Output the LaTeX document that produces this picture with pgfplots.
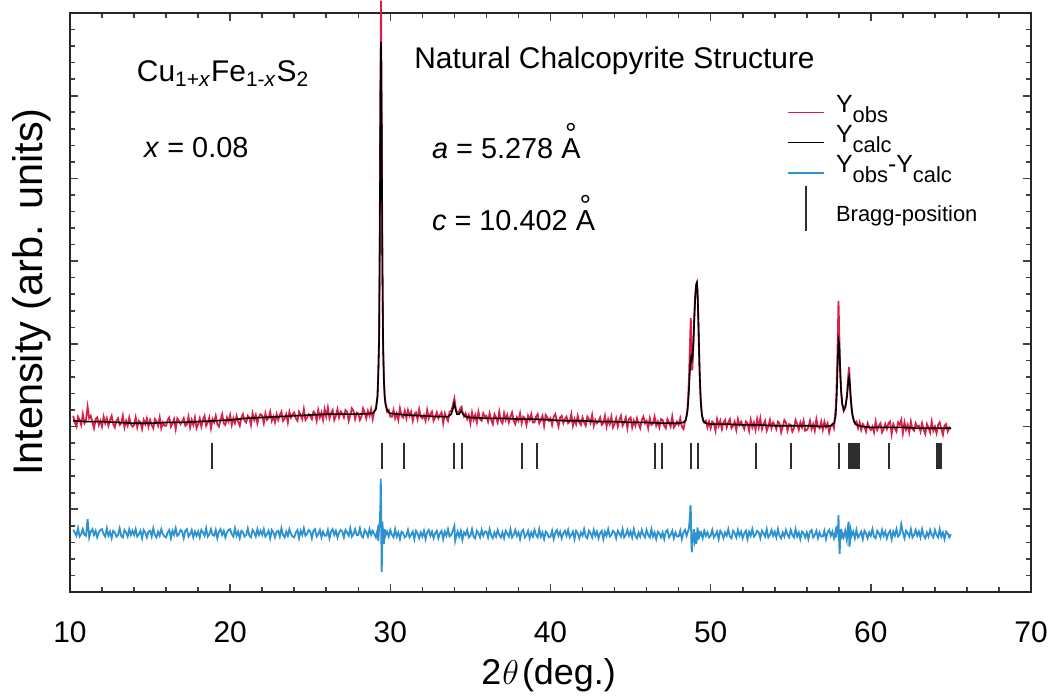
\documentclass[border=0pt]{standalone}
\usepackage{pgfplots}
\pgfplotsset{compat=1.18}
\usepackage{fontspec}
\setmainfont{Liberation Sans}

\definecolor{obsred}{RGB}{218,32,74}
\definecolor{diffblue}{RGB}{44,146,208}
\definecolor{braggk}{RGB}{45,45,45}

% angstrom sign with a detached ring
\newcommand{\ang}{\leavevmode\hbox{\setbox0\hbox{A}\rlap{\hbox to\wd0{\hss\raisebox{0.52em}{°}\hss}}\box0}}
% lowered, nearly full-size subscript used in the legend
\newcommand{\lsub}[1]{\raisebox{-0.40em}{\fontsize{11}{11}\selectfont #1}}

\pgfplotsset{
  legline/.style={legend image code/.code={\draw[##1] (0bp,-3.5bp) -- (18bp,-3.5bp);}},
  legbar/.style={legend image code/.code={\draw[braggk, line width=0.9bp] (9bp,-7.75bp) -- (9bp,14.75bp);}},
}

\begin{document}
\begin{tikzpicture}
\begin{axis}[
  scale only axis, width=480.5bp, height=289.5bp,
  xmin=10, xmax=70, ymin=0, ymax=7,
  xtick={10,20,...,70}, minor x tick num=4,
  ytick={0,1,...,7}, minor y tick num=4, yticklabels={},
  tick align=inside, major tick length=4bp, minor tick length=2.5bp,
  axis line style={line width=1bp, black!85},
  tick style={line width=0.8bp, black!75},
  clip=false,
  /pgf/number format/assume math mode=true,
  xticklabel style={font=\fontsize{15}{15}\selectfont, anchor=base, yshift=-25bp},
  xlabel={2\kern0.5bp$\theta$\kern1.5bp(deg.)},
  xlabel style={at={(axis description cs:0.498,-0.1606)}, anchor=base, font=\fontsize{18}{18}\selectfont},
  ylabel={Intensity (arb. units)},
  ylabel style={at={(axis description cs:-0.0281,0.518)}, anchor=base, font=\fontsize{20.8}{20.8}\selectfont},
  legend cell align=left,
  legend style={at={(rel axis cs:0.746,0.86)}, anchor=north west, draw=none, fill=none,
    inner sep=0pt, row sep=4bp, column sep=5bp, nodes={inner sep=0.5bp},
    font=\fontsize{12.5}{14}\selectfont},
]

% observed pattern
\addplot[obsred, line width=0.9bp, legline] coordinates {
(10.2,2.13)(10.3,2.05)(10.4,2.00)(10.5,2.12)(10.6,2.08)(10.7,2.02)(10.8,2.15)(10.9,2.04)
(11.0,2.08)(11.1,2.24)(11.2,2.10)(11.3,2.13)(11.4,2.05)(11.5,1.98)(11.6,2.09)(11.7,2.11)(11.8,2.02)(11.9,2.07)
(12.0,2.00)(12.1,2.12)(12.2,2.04)(12.3,2.10)(12.4,2.01)(12.5,2.08)(12.6,2.13)(12.7,2.03)(12.8,1.99)(12.9,2.07)
(13.0,2.10)(13.1,2.02)(13.2,2.04)(13.3,2.13)(13.4,1.99)(13.5,2.07)(13.6,2.01)(13.7,2.11)(13.8,2.03)(13.9,2.00)
(14.0,2.02)(14.1,2.11)(14.2,1.99)(14.3,2.07)(14.4,2.05)(14.5,1.97)(14.6,2.08)(14.7,2.03)(14.8,2.10)(14.9,2.00)
(15.0,2.08)(15.1,2.02)(15.2,1.98)(15.3,2.09)(15.4,2.06)(15.5,2.01)(15.6,2.11)(15.7,1.98)(15.8,2.05)(15.9,2.01)
(16.0,2.01)(16.1,2.08)(16.2,2.11)(16.3,2.00)(16.4,2.04)(16.5,2.09)(16.6,1.97)(16.7,2.10)(16.8,2.07)(16.9,2.03)
(17.0,2.06)(17.1,2.10)(17.2,2.01)(17.3,2.03)(17.4,2.12)(17.5,1.99)(17.6,2.08)(17.7,2.02)(17.8,2.11)(17.9,1.98)
(18.0,2.03)(18.1,2.10)(18.2,2.00)(18.3,2.08)(18.4,2.13)(18.5,2.01)(18.6,2.05)(18.7,2.11)(18.8,1.98)(18.9,2.09)
(19.0,2.05)(19.1,2.13)(19.2,2.03)(19.3,2.00)(19.4,2.08)(19.5,2.15)(19.6,2.04)(19.7,2.02)(19.8,2.11)(19.9,2.06)
(20.0,2.14)(20.1,2.02)(20.2,2.10)(20.3,2.04)(20.4,2.13)(20.5,2.06)(20.6,2.01)(20.7,2.11)(20.8,2.15)(20.9,2.07)
(21.0,2.05)(21.1,2.13)(21.2,2.11)(21.3,2.02)(21.4,2.16)(21.5,2.08)(21.6,2.14)(21.7,2.04)(21.8,2.12)(21.9,2.15)
(22.0,2.13)(22.1,2.04)(22.2,2.16)(22.3,2.08)(22.4,2.10)(22.5,2.18)(22.6,2.07)(22.7,2.12)(22.8,2.05)(22.9,2.15)
(23.0,2.08)(23.1,2.14)(23.2,2.18)(23.3,2.07)(23.4,2.10)(23.5,2.15)(23.6,2.05)(23.7,2.18)(23.8,2.11)(23.9,2.15)
(24.0,2.17)(24.1,2.10)(24.2,2.07)(24.3,2.18)(24.4,2.14)(24.5,2.09)(24.6,2.21)(24.7,2.08)(24.8,2.11)(24.9,2.15)
(25.0,2.13)(25.1,2.09)(25.2,2.18)(25.3,2.16)(25.4,2.07)(25.5,2.20)(25.6,2.11)(25.7,2.17)(25.8,2.08)(25.9,2.21)
(26.0,2.12)(26.1,2.23)(26.2,2.10)(26.3,2.16)(26.4,2.20)(26.5,2.08)(26.6,2.13)(26.7,2.21)(26.8,2.11)(26.9,2.18)
(27.0,2.16)(27.1,2.11)(27.2,2.20)(27.3,2.18)(27.4,2.07)(27.5,2.14)(27.6,2.22)(27.7,2.19)(27.8,2.09)(27.9,2.17)
(28.0,2.16)(28.1,2.08)(28.2,2.12)(28.3,2.22)(28.4,2.17)(28.5,2.10)(28.6,2.19)(28.7,2.13)(28.8,2.21)(28.9,2.09)
(29.0,2.19)(29.1,2.22)(29.2,2.38)(29.25,2.70)(29.3,3.10)(29.34,4.30)(29.38,6.20)(29.42,7.15)(29.46,5.60)(29.5,4.20)
(29.55,3.00)(29.6,2.55)(29.65,2.35)(29.7,2.28)(29.8,2.18)(29.9,2.20)
(30.0,2.12)(30.1,2.12)(30.2,2.20)(30.3,2.10)(30.4,2.16)(30.5,2.08)(30.6,2.22)(30.7,2.13)(30.8,2.11)(30.9,2.19)
(31.0,2.10)(31.1,2.20)(31.2,2.13)(31.3,2.18)(31.4,2.07)(31.5,2.15)(31.6,2.17)(31.7,2.09)(31.8,2.21)(31.9,2.12)
(32.0,2.10)(32.1,2.14)(32.2,2.07)(32.3,2.20)(32.4,2.10)(32.5,2.15)(32.6,2.18)(32.7,2.07)(32.8,2.11)(32.9,2.17)
(33.0,2.10)(33.1,2.14)(33.2,2.17)(33.3,2.04)(33.4,2.16)(33.5,2.11)(33.6,2.07)(33.7,2.18)(33.8,2.19)(33.9,2.25)
(33.95,2.30)(34.0,2.34)(34.05,2.27)(34.1,2.20)(34.2,2.16)(34.3,2.19)(34.4,2.23)(34.45,2.24)(34.5,2.18)(34.6,2.12)
(34.7,2.16)(34.8,2.09)(34.9,2.14)
(35.0,2.04)(35.1,2.17)(35.2,2.08)(35.3,2.14)(35.4,2.05)(35.5,2.18)(35.6,2.09)(35.7,2.07)(35.8,2.16)(35.9,2.12)
(36.0,2.13)(36.1,2.06)(36.2,2.16)(36.3,2.08)(36.4,2.03)(36.5,2.15)(36.6,2.11)(36.7,2.05)(36.8,2.18)(36.9,2.07)
(37.0,2.04)(37.1,2.16)(37.2,2.08)(37.3,2.14)(37.4,2.05)(37.5,2.12)(37.6,2.17)(37.7,2.07)(37.8,2.03)(37.9,2.11)
(38.0,2.07)(38.1,2.16)(38.2,2.04)(38.3,2.12)(38.4,2.10)(38.5,2.02)(38.6,2.13)(38.7,2.08)(38.8,2.15)(38.9,2.05)
(39.0,2.05)(39.1,2.12)(39.2,2.15)(39.3,2.04)(39.4,2.08)(39.5,2.13)(39.6,2.01)(39.7,2.14)(39.8,2.11)(39.9,2.07)
(40.0,2.10)(40.1,2.02)(40.2,2.12)(40.3,2.15)(40.4,2.07)(40.5,2.00)(40.6,2.11)(40.7,2.13)(40.8,2.04)(40.9,2.09)
(41.0,2.12)(41.1,2.04)(41.2,2.06)(41.3,2.15)(41.4,2.01)(41.5,2.09)(41.6,2.03)(41.7,2.13)(41.8,2.05)(41.9,2.02)
(42.0,2.11)(42.1,2.05)(42.2,2.01)(42.3,2.12)(42.4,2.09)(42.5,2.04)(42.6,2.14)(42.7,2.01)(42.8,2.08)(42.9,2.04)
(43.0,2.07)(43.1,2.11)(43.2,2.02)(43.3,2.04)(43.4,2.13)(43.5,2.00)(43.6,2.09)(43.7,2.03)(43.8,2.12)(43.9,1.99)
(44.0,2.03)(44.1,2.10)(44.2,2.00)(44.3,2.08)(44.4,2.13)(44.5,2.01)(44.6,2.05)(44.7,2.11)(44.8,1.98)(44.9,2.09)
(45.0,2.11)(45.1,1.99)(45.2,2.07)(45.3,2.01)(45.4,2.10)(45.5,2.03)(45.6,1.98)(45.7,2.08)(45.8,2.12)(45.9,2.04)
(46.0,2.07)(46.1,1.98)(46.2,2.10)(46.3,2.02)(46.4,2.04)(46.5,2.12)(46.6,2.01)(46.7,2.06)(46.8,1.99)(46.9,2.09)
(47.0,2.08)(47.1,2.01)(47.2,1.98)(47.3,2.09)(47.4,2.05)(47.5,2.00)(47.6,2.12)(47.7,1.99)(47.8,2.02)(47.9,2.06)
(48.0,2.02)(48.1,2.10)(48.2,2.00)(48.3,1.97)(48.4,2.06)(48.45,2.08)(48.5,2.14)(48.55,2.22)(48.6,2.38)(48.65,2.60)
(48.7,2.95)(48.74,3.20)(48.76,3.31)(48.79,2.95)(48.82,2.72)(48.85,2.68)(48.88,2.80)(48.92,3.00)(48.96,3.25)(49.0,3.45)
(49.05,3.62)(49.1,3.72)(49.14,3.74)(49.18,3.62)(49.22,3.35)(49.26,3.00)(49.3,2.70)(49.35,2.42)(49.4,2.25)(49.45,2.15)
(49.5,2.10)(49.6,2.05)(49.7,2.07)(49.8,1.99)(49.9,2.06)
(50.0,1.98)(50.1,2.06)(50.2,2.04)(50.3,1.95)(50.4,2.09)(50.5,2.01)(50.6,2.07)(50.7,1.97)(50.8,2.05)(50.9,2.08)
(51.0,1.99)(51.1,2.05)(51.2,2.09)(51.3,1.98)(51.4,2.01)(51.5,2.06)(51.6,1.96)(51.7,2.09)(51.8,2.02)(51.9,2.06)
(52.0,2.01)(52.1,1.97)(52.2,2.06)(52.3,2.04)(52.4,1.95)(52.5,2.08)(52.6,1.99)(52.7,2.05)(52.8,1.96)(52.9,2.09)
(53.0,1.99)(53.1,2.10)(53.2,1.97)(53.3,2.03)(53.4,2.07)(53.5,1.95)(53.6,2.00)(53.7,2.08)(53.8,1.98)(53.9,2.05)
(54.0,2.02)(54.1,1.97)(54.2,2.06)(54.3,2.04)(54.4,1.93)(54.5,2.00)(54.6,2.08)(54.7,2.05)(54.8,1.95)(54.9,2.03)
(55.0,2.02)(55.1,1.94)(55.2,1.98)(55.3,2.08)(55.4,2.03)(55.5,1.96)(55.6,2.05)(55.7,1.99)(55.8,2.07)(55.9,1.95)
(56.0,1.96)(56.1,1.99)(56.2,2.07)(56.3,1.97)(56.4,2.03)(56.5,1.95)(56.6,2.09)(56.7,2.00)(56.8,1.98)(56.9,2.06)
(57.0,1.96)(57.1,2.06)(57.2,1.99)(57.3,2.04)(57.4,1.93)(57.5,2.01)(57.6,2.03)(57.7,1.98)(57.75,2.10)(57.8,2.20)
(57.85,2.40)(57.9,2.75)(57.94,3.10)(57.98,3.52)(58.02,3.20)(58.06,2.85)(58.1,2.58)(58.15,2.40)(58.2,2.28)(58.3,2.19)
(58.4,2.24)(58.5,2.36)(58.55,2.50)(58.6,2.63)(58.64,2.72)(58.68,2.55)(58.72,2.38)(58.8,2.20)(58.9,2.10)(59.0,2.04)
(59.1,2.06)(59.2,1.98)(59.3,2.05)(59.4,1.96)(59.5,2.03)(59.6,2.00)(59.7,1.94)(59.8,2.04)(59.9,1.99)
(60.0,1.96)(60.1,2.00)(60.2,1.93)(60.3,2.06)(60.4,1.96)(60.5,2.01)(60.6,2.04)(60.7,1.93)(60.8,1.97)(60.9,2.03)
(61.0,1.97)(61.1,2.04)(61.2,2.06)(61.3,1.91)(61.4,2.03)(61.5,1.98)(61.6,1.94)(61.7,2.05)(61.8,2.02)(61.9,2.08)
(62.0,1.92)(62.1,2.05)(62.2,1.96)(62.3,2.02)(62.4,1.93)(62.5,2.06)(62.6,1.97)(62.7,1.95)(62.8,2.04)(62.9,2.00)
(63.0,2.01)(63.1,1.94)(63.2,2.04)(63.3,1.96)(63.4,1.91)(63.5,2.03)(63.6,1.99)(63.7,1.93)(63.8,2.06)(63.9,1.95)
(64.0,2.00)(64.1,1.92)(64.2,2.02)(64.3,2.05)(64.4,1.97)(64.5,1.90)(64.6,2.01)(64.7,2.03)(64.8,1.94)(64.9,1.99)
(65.0,1.97)
};
\addlegendentry{Y\lsub{obs}}

% calculated pattern
\addplot[black, line width=0.8bp, legline] coordinates {
(10.2,2.07)(11,2.06)(12,2.06)(13,2.05)(14,2.04)(15,2.04)(16,2.05)(17,2.05)(18,2.06)(19,2.07)
(20,2.08)(21,2.10)(22,2.11)(23,2.12)(24,2.13)(25,2.14)(26,2.15)(27,2.15)(28,2.15)(28.9,2.16)
(29.0,2.18)(29.1,2.21)(29.2,2.36)(29.25,2.62)(29.3,3.05)(29.34,4.20)(29.38,5.90)(29.42,6.65)(29.46,5.70)(29.5,4.00)
(29.55,2.95)(29.6,2.55)(29.65,2.36)(29.7,2.27)(29.8,2.20)(29.9,2.17)(30.0,2.16)
(31,2.14)(32,2.13)(33,2.12)(33.6,2.12)(33.8,2.15)(33.9,2.21)(33.98,2.28)(34.06,2.22)(34.15,2.15)(34.3,2.15)
(34.42,2.19)(34.55,2.15)(34.7,2.12)(35,2.11)(36,2.10)(37,2.10)(38,2.09)(39,2.09)(40,2.08)(41,2.07)
(42,2.07)(43,2.06)(44,2.06)(45,2.05)(46,2.05)(47,2.04)(48,2.04)(48.3,2.05)(48.45,2.08)(48.55,2.18)
(48.62,2.35)(48.68,2.58)(48.74,2.80)(48.78,2.84)(48.82,2.80)(48.86,2.82)(48.92,3.00)(48.98,3.30)(49.04,3.58)(49.1,3.72)
(49.14,3.74)(49.18,3.64)(49.22,3.38)(49.27,3.00)(49.32,2.62)(49.38,2.32)(49.45,2.14)(49.55,2.06)(49.7,2.04)(50,2.03)
(51,2.03)(52,2.02)(53,2.02)(54,2.01)(55,2.01)(56,2.01)(57,2.00)(57.5,2.01)(57.7,2.04)(57.8,2.12)
(57.86,2.32)(57.92,2.68)(57.98,3.05)(58.03,3.00)(58.08,2.72)(58.14,2.45)(58.22,2.27)(58.32,2.20)(58.42,2.24)(58.52,2.38)
(58.6,2.56)(58.65,2.60)(58.7,2.50)(58.76,2.32)(58.85,2.14)(58.95,2.06)(59.1,2.02)(59.5,2.00)(60,1.99)(61,1.99)
(62,1.99)(63,1.98)(64,1.98)(65,1.98)
};
\addlegendentry{Y\lsub{calc}}

% difference curve, offset below the pattern
\addplot[diffblue, line width=0.9bp, legline] coordinates {
(10.2,0.75)(10.3,0.72)(10.4,0.68)(10.5,0.77)(10.6,0.67)(10.7,0.70)(10.8,0.76)(10.9,0.69)
(11.0,0.68)(11.1,0.88)(11.2,0.66)(11.3,0.73)(11.4,0.76)(11.5,0.69)(11.6,0.74)(11.7,0.66)(11.8,0.72)(11.9,0.75)
(12.0,0.76)(12.1,0.70)(12.2,0.67)(12.3,0.77)(12.4,0.68)(12.5,0.73)(12.6,0.65)(12.7,0.74)(12.8,0.72)(12.9,0.67)
(13.0,0.69)(13.1,0.77)(13.2,0.68)(13.3,0.66)(13.4,0.75)(13.5,0.72)(13.6,0.67)(13.7,0.76)(13.8,0.69)(13.9,0.74)
(14.0,0.69)(14.1,0.76)(14.2,0.67)(14.3,0.70)(14.4,0.74)(14.5,0.65)(14.6,0.75)(14.7,0.72)(14.8,0.66)(14.9,0.73)
(15.0,0.74)(15.1,0.67)(15.2,0.77)(15.3,0.69)(15.4,0.66)(15.5,0.73)(15.6,0.68)(15.7,0.76)(15.8,0.70)(15.9,0.67)
(16.0,0.66)(16.1,0.72)(16.2,0.75)(16.3,0.65)(16.4,0.74)(16.5,0.69)(16.6,0.77)(16.7,0.68)(16.8,0.70)(16.9,0.75)
(17.0,0.73)(17.1,0.65)(17.2,0.74)(17.3,0.76)(17.4,0.67)(17.5,0.70)(17.6,0.75)(17.7,0.66)(17.8,0.73)(17.9,0.68)
(18.0,0.73)(18.1,0.66)(18.2,0.75)(18.3,0.72)(18.4,0.68)(18.5,0.77)(18.6,0.67)(18.7,0.70)(18.8,0.76)(18.9,0.69)
(19.0,0.68)(19.1,0.75)(19.2,0.65)(19.3,0.73)(19.4,0.76)(19.5,0.69)(19.6,0.74)(19.7,0.66)(19.8,0.72)(19.9,0.75)
(20.0,0.76)(20.1,0.70)(20.2,0.67)(20.3,0.77)(20.4,0.68)(20.5,0.73)(20.6,0.65)(20.7,0.74)(20.8,0.72)(20.9,0.67)
(21.0,0.69)(21.1,0.77)(21.2,0.68)(21.3,0.66)(21.4,0.75)(21.5,0.72)(21.6,0.67)(21.7,0.76)(21.8,0.69)(21.9,0.74)
(22.0,0.69)(22.1,0.76)(22.2,0.67)(22.3,0.70)(22.4,0.74)(22.5,0.65)(22.6,0.75)(22.7,0.72)(22.8,0.66)(22.9,0.73)
(23.0,0.74)(23.1,0.67)(23.2,0.77)(23.3,0.69)(23.4,0.66)(23.5,0.73)(23.6,0.68)(23.7,0.76)(23.8,0.70)(23.9,0.67)
(24.0,0.66)(24.1,0.72)(24.2,0.75)(24.3,0.65)(24.4,0.74)(24.5,0.69)(24.6,0.77)(24.7,0.68)(24.8,0.70)(24.9,0.75)
(25.0,0.73)(25.1,0.65)(25.2,0.74)(25.3,0.76)(25.4,0.67)(25.5,0.70)(25.6,0.75)(25.7,0.66)(25.8,0.73)(25.9,0.68)
(26.0,0.68)(26.1,0.75)(26.2,0.65)(26.3,0.73)(26.4,0.76)(26.5,0.69)(26.6,0.74)(26.7,0.66)(26.8,0.72)(26.9,0.75)
(27.0,0.73)(27.1,0.66)(27.2,0.75)(27.3,0.72)(27.4,0.68)(27.5,0.77)(27.6,0.67)(27.7,0.70)(27.8,0.76)(27.9,0.69)
(28.0,0.69)(28.1,0.77)(28.2,0.68)(28.3,0.66)(28.4,0.75)(28.5,0.72)(28.6,0.67)(28.7,0.76)(28.8,0.69)(28.9,0.74)
(29.0,0.70)(29.1,0.66)(29.2,0.75)(29.25,0.62)(29.3,0.78)(29.34,0.85)(29.38,1.05)(29.4,1.37)(29.42,1.20)(29.44,0.62)
(29.46,0.24)(29.48,0.40)(29.5,0.85)(29.55,0.72)(29.6,0.58)(29.65,0.76)(29.7,0.68)(29.8,0.73)(29.9,0.67)
(30.0,0.75)(30.1,0.69)(30.2,0.66)(30.3,0.76)(30.4,0.67)(30.5,0.72)(30.6,0.64)(30.7,0.73)(30.8,0.71)(30.9,0.66)
(31.0,0.68)(31.1,0.75)(31.2,0.66)(31.3,0.69)(31.4,0.73)(31.5,0.64)(31.6,0.74)(31.7,0.71)(31.8,0.65)(31.9,0.72)
(32.0,0.67)(32.1,0.74)(32.2,0.64)(32.3,0.72)(32.4,0.75)(32.5,0.68)(32.6,0.73)(32.7,0.65)(32.8,0.71)(32.9,0.74)
(33.0,0.65)(33.1,0.71)(33.2,0.74)(33.3,0.64)(33.4,0.73)(33.5,0.68)(33.6,0.76)(33.7,0.67)(33.8,0.69)(33.9,0.74)
(34.0,0.80)(34.05,0.62)(34.1,0.66)(34.2,0.73)(34.3,0.67)(34.4,0.74)(34.5,0.63)(34.6,0.72)(34.7,0.69)(34.8,0.75)(34.9,0.66)
(35.0,0.68)(35.1,0.76)(35.2,0.67)(35.3,0.65)(35.4,0.74)(35.5,0.71)(35.6,0.66)(35.7,0.75)(35.8,0.68)(35.9,0.73)
(36.0,0.73)(36.1,0.66)(36.2,0.76)(36.3,0.68)(36.4,0.65)(36.5,0.72)(36.6,0.67)(36.7,0.75)(36.8,0.69)(36.9,0.66)
(37.0,0.72)(37.1,0.65)(37.2,0.74)(37.3,0.71)(37.4,0.67)(37.5,0.76)(37.6,0.66)(37.7,0.69)(37.8,0.75)(37.9,0.68)
(38.0,0.72)(38.1,0.64)(38.2,0.73)(38.3,0.75)(38.4,0.66)(38.5,0.69)(38.6,0.74)(38.7,0.65)(38.8,0.72)(38.9,0.67)
(39.0,0.75)(39.1,0.69)(39.2,0.66)(39.3,0.76)(39.4,0.67)(39.5,0.72)(39.6,0.64)(39.7,0.73)(39.8,0.71)(39.9,0.66)
(40.0,0.67)(40.1,0.74)(40.2,0.64)(40.3,0.72)(40.4,0.75)(40.5,0.68)(40.6,0.73)(40.7,0.65)(40.8,0.71)(40.9,0.74)
(41.0,0.68)(41.1,0.75)(41.2,0.66)(41.3,0.69)(41.4,0.73)(41.5,0.64)(41.6,0.74)(41.7,0.71)(41.8,0.65)(41.9,0.72)
(42.0,0.68)(42.1,0.76)(42.2,0.67)(42.3,0.65)(42.4,0.74)(42.5,0.71)(42.6,0.66)(42.7,0.75)(42.8,0.68)(42.9,0.73)
(43.0,0.65)(43.1,0.71)(43.2,0.74)(43.3,0.64)(43.4,0.73)(43.5,0.68)(43.6,0.76)(43.7,0.67)(43.8,0.69)(43.9,0.74)
(44.0,0.72)(44.1,0.65)(44.2,0.74)(44.3,0.71)(44.4,0.67)(44.5,0.76)(44.6,0.66)(44.7,0.69)(44.8,0.75)(44.9,0.68)
(45.0,0.73)(45.1,0.66)(45.2,0.76)(45.3,0.68)(45.4,0.65)(45.5,0.72)(45.6,0.67)(45.7,0.75)(45.8,0.69)(45.9,0.66)
(46.0,0.75)(46.1,0.69)(46.2,0.66)(46.3,0.76)(46.4,0.67)(46.5,0.72)(46.6,0.64)(46.7,0.73)(46.8,0.71)(46.9,0.66)
(47.0,0.72)(47.1,0.64)(47.2,0.73)(47.3,0.75)(47.4,0.66)(47.5,0.69)(47.6,0.74)(47.7,0.65)(47.8,0.72)(47.9,0.67)
(48.0,0.67)(48.1,0.74)(48.2,0.64)(48.3,0.72)(48.4,0.75)(48.5,0.68)(48.6,0.74)(48.65,0.78)(48.7,0.90)(48.74,1.05)
(48.76,1.00)(48.79,0.62)(48.82,0.48)(48.85,0.55)(48.9,0.66)(48.95,0.76)(49.0,0.64)(49.05,0.72)(49.1,0.58)(49.14,0.66)
(49.18,0.78)(49.22,0.63)(49.26,0.74)(49.3,0.67)(49.4,0.72)(49.5,0.65)(49.6,0.74)(49.7,0.68)(49.8,0.72)(49.9,0.66)
(50.0,0.68)(50.1,0.75)(50.2,0.66)(50.3,0.69)(50.4,0.73)(50.5,0.64)(50.6,0.74)(50.7,0.71)(50.8,0.65)(50.9,0.72)
(51.0,0.68)(51.1,0.76)(51.2,0.67)(51.3,0.65)(51.4,0.74)(51.5,0.71)(51.6,0.66)(51.7,0.75)(51.8,0.68)(51.9,0.73)
(52.0,0.65)(52.1,0.71)(52.2,0.74)(52.3,0.64)(52.4,0.73)(52.5,0.68)(52.6,0.76)(52.7,0.67)(52.8,0.69)(52.9,0.74)
(53.0,0.72)(53.1,0.65)(53.2,0.74)(53.3,0.71)(53.4,0.67)(53.5,0.76)(53.6,0.66)(53.7,0.69)(53.8,0.75)(53.9,0.68)
(54.0,0.73)(54.1,0.66)(54.2,0.76)(54.3,0.68)(54.4,0.65)(54.5,0.72)(54.6,0.67)(54.7,0.75)(54.8,0.69)(54.9,0.66)
(55.0,0.75)(55.1,0.69)(55.2,0.66)(55.3,0.76)(55.4,0.67)(55.5,0.72)(55.6,0.64)(55.7,0.73)(55.8,0.71)(55.9,0.66)
(56.0,0.72)(56.1,0.64)(56.2,0.73)(56.3,0.75)(56.4,0.66)(56.5,0.69)(56.6,0.74)(56.7,0.65)(56.8,0.72)(56.9,0.67)
(57.0,0.67)(57.1,0.74)(57.2,0.64)(57.3,0.72)(57.4,0.75)(57.5,0.68)(57.6,0.73)(57.7,0.65)(57.8,0.74)(57.85,0.66)
(57.9,0.80)(57.94,0.70)(57.98,0.93)(58.02,0.62)(58.05,0.46)(58.08,0.58)(58.12,0.76)(58.16,0.64)(58.2,0.72)(58.3,0.66)
(58.4,0.74)(58.5,0.63)(58.56,0.78)(58.62,0.85)(58.66,0.55)(58.7,0.60)(58.75,0.74)(58.8,0.68)(58.9,0.73)(59.0,0.65)
(59.1,0.75)(59.2,0.66)(59.3,0.69)(59.4,0.73)(59.5,0.64)(59.6,0.74)(59.7,0.71)(59.8,0.65)(59.9,0.72)
(60.0,0.68)(60.1,0.76)(60.2,0.67)(60.3,0.65)(60.4,0.74)(60.5,0.71)(60.6,0.66)(60.7,0.75)(60.8,0.68)(60.9,0.73)
(61.0,0.65)(61.1,0.71)(61.2,0.74)(61.3,0.64)(61.4,0.73)(61.5,0.68)(61.6,0.76)(61.7,0.67)(61.8,0.69)(61.9,0.82)
(62.0,0.72)(62.1,0.65)(62.2,0.74)(62.3,0.71)(62.4,0.67)(62.5,0.76)(62.6,0.66)(62.7,0.69)(62.8,0.75)(62.9,0.68)
(63.0,0.73)(63.1,0.66)(63.2,0.76)(63.3,0.68)(63.4,0.65)(63.5,0.72)(63.6,0.67)(63.7,0.75)(63.8,0.69)(63.9,0.66)
(64.0,0.75)(64.1,0.69)(64.2,0.66)(64.3,0.76)(64.4,0.67)(64.5,0.72)(64.6,0.64)(64.7,0.73)(64.8,0.71)(64.9,0.66)
(65.0,0.70)
};
\addlegendentry{Y\lsub{obs}-Y\lsub{calc}}

% Bragg reflection positions
\addplot[only marks, mark=|, mark size=6.6bp, mark options={braggk, line width=1.1bp}, legbar] coordinates {
(18.86,1.645)(29.48,1.645)(30.85,1.645)(33.97,1.645)(34.47,1.645)(38.20,1.645)(39.15,1.645)
(46.50,1.645)(46.95,1.645)(48.76,1.645)(49.20,1.645)(52.82,1.645)(55.00,1.645)
(58.00,1.645)(58.63,1.645)(58.75,1.645)(58.88,1.645)(59.00,1.645)(59.13,1.645)(59.25,1.645)
(61.12,1.645)(64.16,1.645)(64.35,1.645)
};
\addlegendentry{\fontsize{11}{13}\selectfont Bragg-position}

\node[anchor=base west, font=\fontsize{15}{15}\selectfont] at (rel axis cs:0.0624,0.881)
  {Cu\textsubscript{1+\textit{x}}Fe\textsubscript{1-\textit{x}}S\textsubscript{2}};
\node[anchor=base west, font=\fontsize{14.5}{14.5}\selectfont] at (rel axis cs:0.0697,0.751) {\textit{x} = 0.08};
\node[anchor=base west, font=\fontsize{15}{15}\selectfont] at (rel axis cs:0.351,0.905) {Natural Chalcopyrite Structure};
\node[anchor=base west, font=\fontsize{14.5}{14.5}\selectfont] at (rel axis cs:0.3694,0.748) {\textit{a} = 5.278 \ang};
\node[anchor=base west, font=\fontsize{14.5}{14.5}\selectfont] at (rel axis cs:0.3694,0.625) {\textit{c} = 10.402 \ang};

\coordinate (bl) at (rel axis cs:0,0);
\coordinate (tr) at (rel axis cs:1,1);
\end{axis}
\pgfresetboundingbox
\path[use as bounding box] ([shift={(-35bp,-53.5bp)}]bl) rectangle ([shift={(9.5bp,6.5bp)}]tr);
\end{tikzpicture}
\end{document}
